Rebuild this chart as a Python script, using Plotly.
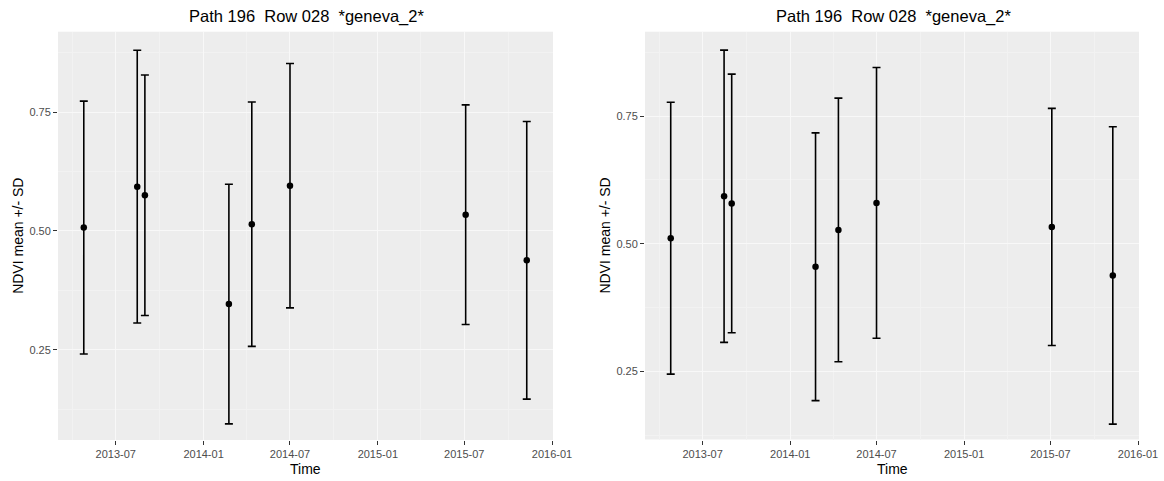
import plotly.graph_objects as go

# ---- data ----
dates = ["2013-04-25", "2013-08-15", "2013-08-31", "2014-02-23",
         "2014-04-12", "2014-07-01", "2015-07-04", "2015-11-09"]
left_mean = [0.507, 0.593, 0.575, 0.346, 0.514, 0.595, 0.534, 0.438]
left_sd = [0.266, 0.287, 0.253, 0.252, 0.257, 0.257, 0.231, 0.292]
right_mean = [0.511, 0.593, 0.579, 0.455, 0.527, 0.580, 0.533, 0.438]
right_sd = [0.266, 0.286, 0.253, 0.262, 0.258, 0.265, 0.232, 0.291]
title_text = "Path 196  Row 028  *geneva_2*"
y_ticks = [0.25, 0.50, 0.75]
y_ticktext = ["0.25", "0.50", "0.75"]

# axis ranges
x_range = ["2013-03-02", "2016-01-03"]
left_y_range = [0.060, 0.919]
right_y_range = [0.117, 0.915]

W, H = 1164, 481
FONT = "Liberation Sans, Arial, Helvetica, sans-serif"
BG = "#EDEDED"
GRID_MAJOR = "#F8F8F8"
GRID_MINOR = "#F2F2F2"
TICKCOL = "#4D4D4D"

fig = go.Figure()

panels = [
    (left_mean, left_sd, left_y_range, [58, 553], [31.7, 440.0]),
    (right_mean, right_sd, right_y_range, [645, 1139], [31.7, 439.5]),
]

for i, (m, s, yr, px, py) in enumerate(panels):
    sfx = "" if i == 0 else "2"
    fig.add_trace(go.Scatter(
        x=dates, y=m, mode="markers",
        xaxis="x" + sfx, yaxis="y" + sfx,
        marker=dict(color="black", size=6.5),
        error_y=dict(type="data", array=s, symmetric=True,
                     color="black", thickness=1.6, width=4),
        showlegend=False, hoverinfo="x+y",
    ))
    ydom = [1 - py[1] / H, 1 - py[0] / H]
    common = dict(showgrid=True, gridcolor=GRID_MAJOR, gridwidth=1.1,
                  zeroline=False, showline=False,
                  ticks="outside", ticklen=4, tickwidth=1,
                  tickcolor="#333333",
                  tickfont=dict(family=FONT, size=11, color=TICKCOL))
    fig.update_layout(**{
        "xaxis" + sfx: dict(
            domain=[px[0] / W, px[1] / W], anchor="y" + sfx,
            type="date", range=x_range, tick0="2013-01-01", dtick="M6",
            tickformat="%Y-%m",
            minor=dict(dtick="M3", tick0="2013-01-01", showgrid=True,
                       gridcolor=GRID_MINOR, gridwidth=0.6, ticks=""),
            **common),
        "yaxis" + sfx: dict(
            domain=ydom, anchor="x" + sfx, range=yr,
            tickvals=y_ticks, ticktext=y_ticktext,
            minor=dict(tickvals=[0.125, 0.375, 0.625, 0.875], showgrid=True,
                       gridcolor=GRID_MINOR, gridwidth=0.6, ticks=""),
            **common),
    })
    cx = (px[0] + px[1]) / 2 / W
    fig.add_annotation(text=title_text, x=cx + 1 / W, y=1 - 17 / H,
                       xref="paper", yref="paper", showarrow=False,
                       xanchor="center", yanchor="middle",
                       font=dict(family=FONT, size=16.5, color="black"))
    fig.add_annotation(text="Time", x=cx, y=1 - 469 / H,
                       xref="paper", yref="paper", showarrow=False,
                       xanchor="center", yanchor="middle",
                       font=dict(family=FONT, size=14, color="black"))
    fig.add_annotation(text="NDVI mean +/- SD", x=(px[0] - 40) / W,
                       y=1 - ((py[0] + py[1]) / 2) / H,
                       xref="paper", yref="paper", showarrow=False,
                       textangle=-90, xanchor="center", yanchor="middle",
                       font=dict(family=FONT, size=14, color="black"))

fig.update_layout(
    width=W, height=H, autosize=False,
    margin=dict(l=0, r=0, t=0, b=0, pad=0, autoexpand=False),
    paper_bgcolor="white", plot_bgcolor=BG,
    font=dict(family=FONT),
)

fig.write_html("out.html", include_plotlyjs=True, full_html=True,
               config={"displayModeBar": False},
               post_script="document.body.style.margin='0';"
                           "document.body.style.padding='0';"
                           "document.body.style.overflow='hidden';")
